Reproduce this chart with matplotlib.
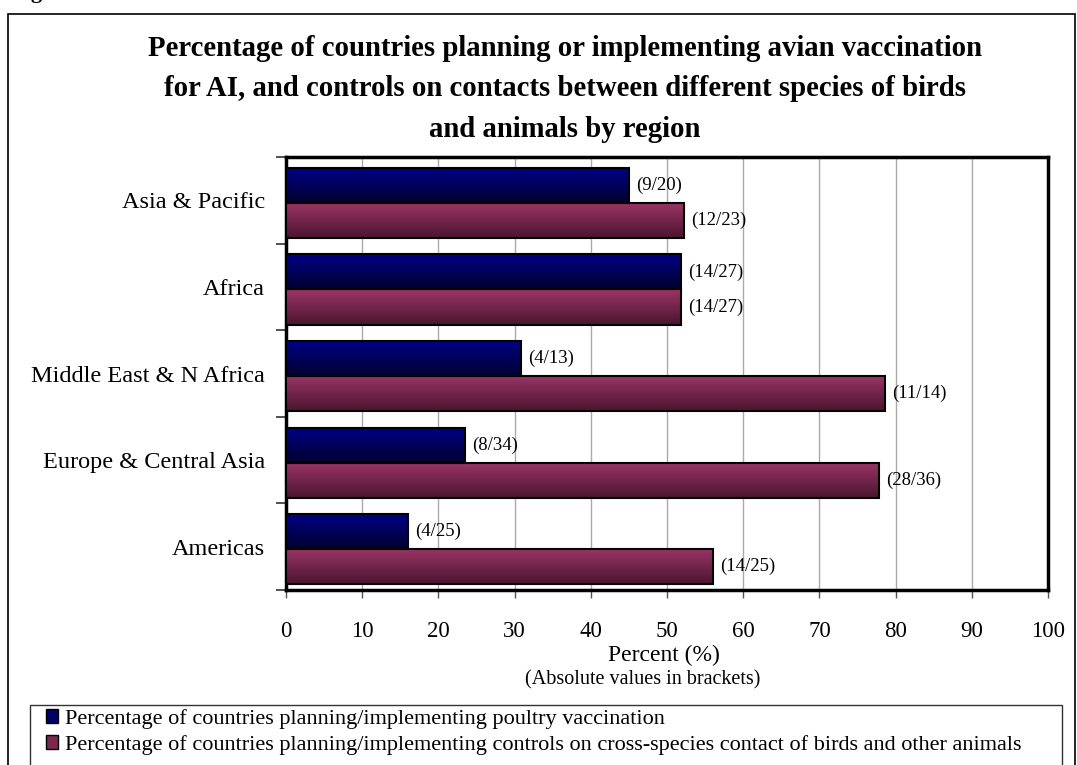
import numpy as np
import matplotlib
matplotlib.use("Agg")
import matplotlib.pyplot as plt
from matplotlib.patches import Rectangle, Patch
from matplotlib.colors import to_rgb

# ---- data ----
regions = ["Asia & Pacific", "Africa", "Middle East & N Africa",
           "Europe & Central Asia", "Americas"]
vaccination_pct = [45.0, 51.9, 30.8, 23.5, 16.0]
vaccination_lbl = ["(9/20)", "(14/27)", "(4/13)", "(8/34)", "(4/25)"]
contact_pct = [52.2, 51.9, 78.6, 77.8, 56.0]
contact_lbl = ["(12/23)", "(14/27)", "(11/14)", "(28/36)", "(14/25)"]
xticks = [0, 10, 20, 30, 40, 50, 60, 70, 80, 90, 100]
series_names = [
    "Percentage of countries planning/implementing poultry vaccination",
    "Percentage of countries planning/implementing controls on cross-species contact of birds and other animals",
]
title = ("Percentage of countries planning or implementing avian vaccination\n"
         "for AI, and controls on contacts between different species of birds\n"
         "and animals by region")

SERIF = ["Liberation Serif", "DejaVu Serif"]
plt.rcParams["font.family"] = SERIF

W, H = 1077, 765
fig = plt.figure(figsize=(W / 100, H / 100), dpi=100)

def fx(px):
    return px / W

def fy(py):
    return 1 - py / H

# outer frame (extends beyond bottom)
fig.patches.append(Rectangle((fx(8), -0.05), fx(1075) - fx(8), fy(14) + 0.05,
                             transform=fig.transFigure, fill=False,
                             edgecolor="black", linewidth=1.2))
# partially visible header text above frame
fig.text(fx(12), 1.0 + 2 / H, "Figure", fontsize=16, fontweight="bold",
         ha="left", va="baseline")

# title
fig.text(fx(565), fy(89), title, ha="center", va="center", fontsize=20.7,
         fontweight="bold", linespacing=1.62)

ax = fig.add_axes([fx(286), fy(590), fx(1048) - fx(286), fy(157) - fy(590)])

y = np.arange(len(regions))
h = 0.405
top_colors = [("#000088", "#00002e"), ("#9c3566", "#4a1530")]

bars1 = ax.barh(y - h / 2 + 0.03, vaccination_pct, height=h, color="none",
                edgecolor="black", linewidth=1.5, zorder=4)
bars2 = ax.barh(y + h / 2 + 0.03, contact_pct, height=h, color="none",
                edgecolor="black", linewidth=1.5, zorder=4)

def gradient_fill(bars, c_top, c_bot):
    t = np.array(to_rgb(c_top))
    b = np.array(to_rgb(c_bot))
    n = 64
    frac = np.linspace(0, 1, n)[:, None]
    grad = (t * (1 - frac) + b * frac)[:, None, :]
    for p in bars.patches:
        x0, y0 = p.get_x(), p.get_y()
        w, hh = p.get_width(), p.get_height()
        ax.imshow(grad, extent=(x0, x0 + w, y0, y0 + hh), origin="lower",
                  aspect="auto", zorder=3, interpolation="bilinear")

gradient_fill(bars1, *top_colors[0])
gradient_fill(bars2, *top_colors[1])

for bars, labels in ((bars1, vaccination_lbl), (bars2, contact_lbl)):
    for p, lab in zip(bars.patches, labels):
        ax.annotate(lab, (p.get_x() + p.get_width(),
                          p.get_y() + p.get_height() / 2),
                    xytext=(5, 0), textcoords="offset points", ha="left",
                    va="center", fontsize=13.5)

ax.set_xlim(0, 100)
ax.set_ylim(len(regions) - 0.5, -0.5)
ax.set_xticks(xticks)
ax.set_xticklabels([str(v) for v in xticks], fontsize=16.5)
ax.set_yticks(y)
ax.set_yticklabels(regions, fontsize=17.5)
ax.set_yticks(np.arange(len(regions) + 1) - 0.5, minor=True)
ax.tick_params(axis="y", which="major", length=0, pad=15)
ax.tick_params(axis="y", which="minor", length=7, width=1.2, color="#333333")
ax.tick_params(axis="x", which="major", length=6, width=1.0, color="#555555",
               pad=16)
ax.grid(axis="x", color="#aaaaaa", linewidth=1.0, zorder=0)
ax.set_axisbelow(True)
for s in ax.spines.values():
    s.set_linewidth(2.5)
    s.set_color("black")

fig.text(fx(664), fy(655), "Percent (%)", ha="center", va="center", fontsize=17)
fig.text(fx(643), fy(680), "(Absolute values in brackets)", ha="center",
         va="center", fontsize=14.5)

# legend box (extends beyond bottom)
fig.patches.append(Rectangle((fx(30), -0.05), fx(1062) - fx(30), fy(705) + 0.05,
                             transform=fig.transFigure, fill=False,
                             edgecolor="#333333", linewidth=1.0))
handles = [Patch(facecolor="#000066", edgecolor="black", linewidth=1.0),
           Patch(facecolor="#7a2a50", edgecolor="black", linewidth=1.0)]
fig.legend(handles, series_names, loc="upper left",
           bbox_to_anchor=(fx(46), fy(709)), frameon=False, fontsize=16,
           handlelength=0.55, handleheight=0.55, handletextpad=0.3,
           labelspacing=0.28, borderaxespad=0, borderpad=0)

fig.savefig("out.png", dpi=100)
